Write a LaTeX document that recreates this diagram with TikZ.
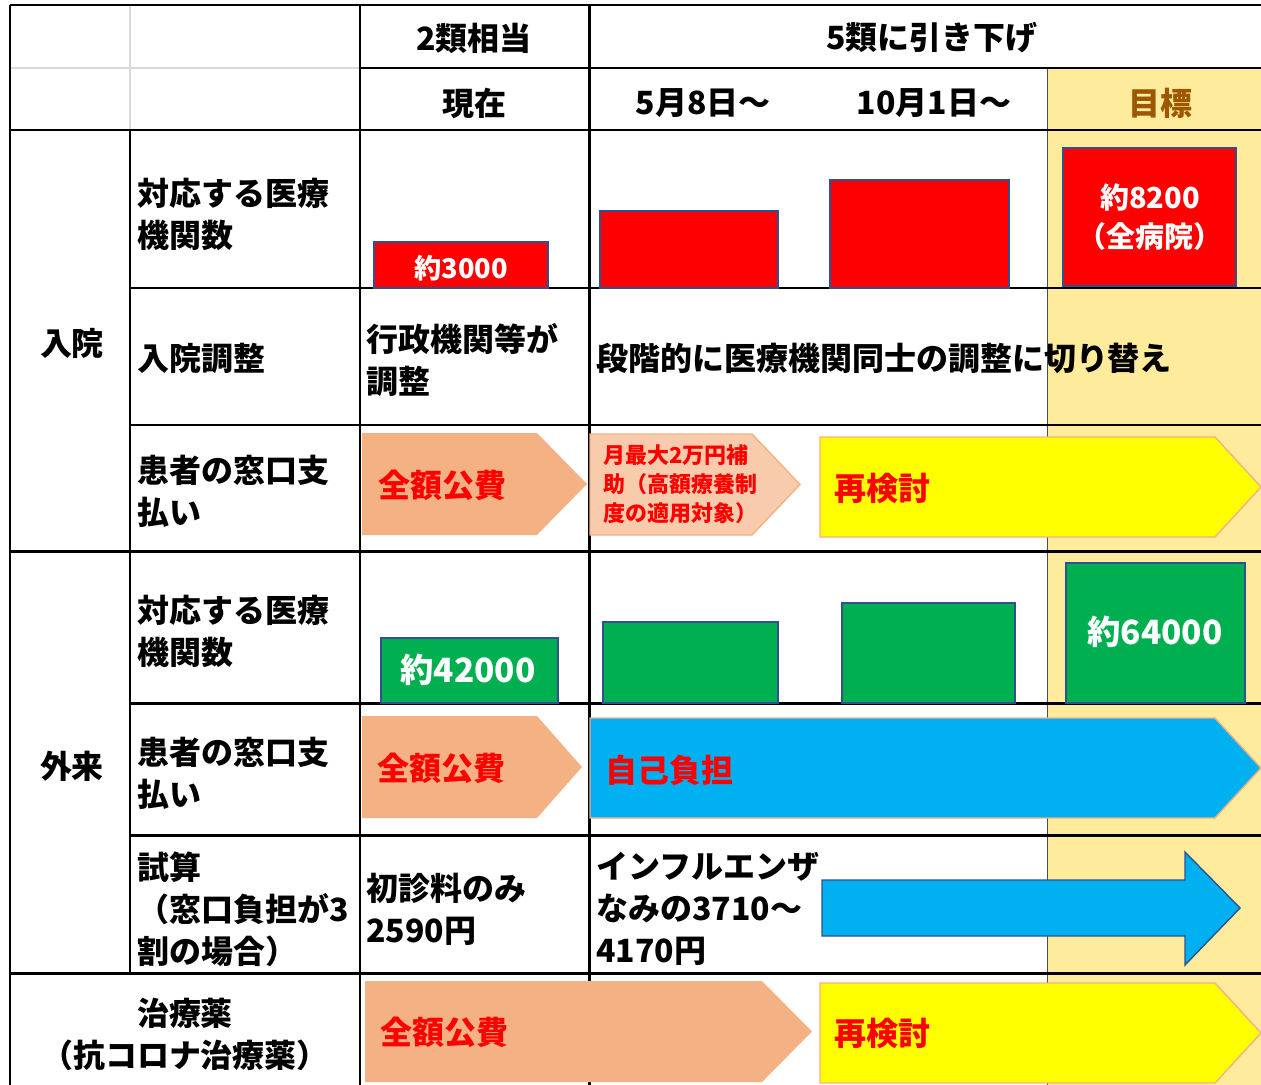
\documentclass[tikz,border=0pt]{standalone}
\usepackage{fontspec}
\setmainfont{Noto Sans CJK JP}
\usepackage{tikz}
\usetikzlibrary{calc}
\definecolor{goalfill}{HTML}{FFEB9C}
\definecolor{goaltext}{HTML}{9C5700}
\definecolor{salmon}{HTML}{F4B183}
\definecolor{palesalmon}{HTML}{F8CBAD}
\definecolor{sky}{HTML}{00B0F0}
\definecolor{lemon}{HTML}{FFFF00}
\definecolor{redfont}{HTML}{FF0000}
\definecolor{barred}{HTML}{FF0000}
\definecolor{bargreen}{HTML}{00B050}
\definecolor{barline}{HTML}{2F528F}
\newcommand{\pentarrow}[6]{%
  \path[#6] (#1,#2) -- (#5,#2) -- (#3,{(#2+#4)/2}) -- (#5,#4) -- (#1,#4) -- cycle;}
\tikzset{
  gridline/.style={line width=1.7pt, black},
  softline/.style={line width=1pt, black!15},
  hd/.style={font=\bfseries\fontsize{18.2}{23.9}\selectfont, inner sep=0pt},
  lbl/.style={hd, align=left, anchor=west},
  redtxt/.style={lbl, text=redfont},
  smalltxt/.style={font=\bfseries\fontsize{12.5}{16.5}\selectfont, inner sep=0pt, align=left, anchor=west, text=redfont},
  bar/.style={draw=barline, line width=0.8pt},
  bartxt/.style={font=\bfseries\fontsize{15.5}{22}\selectfont, inner sep=0pt, align=center, text=white}
}

\begin{document}
\begin{tikzpicture}[x=0.02cm, y=-0.02cm]
\useasboundingbox (0,0) rectangle (1261,1085);
\fill[goalfill] (1047,68) rectangle (1261,1085);

% table rules
\draw[softline] (10,68) -- (360,68);
\draw[softline] (130,5) -- (130,130);
\draw[line width=0.5pt, black!70] (1047,68) -- (1047,1085);
\draw[gridline] (10,5) -- (1261,5);
\draw[gridline] (360,68) -- (1261,68);
\foreach \y in {130,551,973}
  \draw[gridline] (10,\y) -- (1261,\y);
\foreach \y in {288,425,703,835}
  \draw[gridline] (130,\y) -- (1261,\y);
\foreach \x in {10,360,589}
  \draw[gridline] (\x,5) -- (\x,1085);
\draw[gridline] (130,130) -- (130,973);

% header
\node[hd] (nirui) at (474,38) {2類相当};
\node[hd] (gorui) at (932,38) {5類に引き下げ};
\node[hd] (genzai) at (474,103) {現在};
\node[hd] (may) at (703,103) {5月8日～};
\node[hd] (oct) at (934,103) {10月1日～};
\node[hd, text=goaltext] (goal) at (1160,103) {目標};

% row labels
\node[hd] (nyuin) at (72,343) {入院};
\node[hd] (gairai) at (72,766) {外来};
\node[lbl] (taio1) at (137,214) {対応する医療\\機関数};
\node[lbl] (chosei) at (137,358) {入院調整};
\node[lbl] (madoguchi1) at (137,491) {患者の窓口支\\払い};
\node[lbl] (taio2) at (137,631) {対応する医療\\機関数};
\node[lbl] (madoguchi2) at (137,773) {患者の窓口支\\払い};
\node[lbl] (shisan) at (137,909) {試算\\（窓口負担が3\\割の場合）};
\node[hd, align=center] (chiryo) at (185,1034) {治療薬\\（抗コロナ治療薬）};

% bars
\draw[bar, fill=barred] (374,242) rectangle (548,288);
\draw[bar, fill=barred] (600,211) rectangle (778,288);
\draw[bar, fill=barred] (830,180) rectangle (1009,288);
\draw[bar, fill=barred] (1063,148) rectangle (1236,286);
\node[bartxt] (byo3000) at (461,268) {約3000};
\node[bartxt, font=\bfseries\fontsize{16.5}{22}\selectfont] (byo8200) at (1150,217) {約8200\\（全病院）};
\draw[bar, fill=bargreen] (381,638) rectangle (558,703);
\draw[bar, fill=bargreen] (603,622) rectangle (778,703);
\draw[bar, fill=bargreen] (842,603) rectangle (1015,703);
\draw[bar, fill=bargreen] (1066,563) rectangle (1245,703);
\node[bartxt, font=\bfseries\fontsize{19}{22}\selectfont] (gai42000) at (468,670) {約42000};
\node[bartxt, font=\bfseries\fontsize{19}{22}\selectfont] (gai64000) at (1155,632) {約64000};

% cells
\node[lbl] (gyosei) at (366,360) {行政機関等が\\調整};
\node[lbl] (dankai) at (596,358) {段階的に医療機関同士の調整に切り替え};
\node[lbl] (shoshin) at (366,909) {初診料のみ\\2590円};
\node[lbl] (influ) at (596,909) {インフルエンザ\\なみの3710～\\4170円};

% arrows
\pentarrow{362}{433}{587}{535}{537}{fill=salmon}
\pentarrow{590}{434}{800}{535}{752}{fill=palesalmon, draw=salmon, line width=0.8pt}
\pentarrow{820}{437}{1261}{537}{1215}{fill=lemon, draw=salmon, line width=0.8pt}
\node[redtxt] (kohi1) at (378,485) {全額公費};
\node[smalltxt] (hojo) at (603,484) {月最大2万円補\\助（高額療養制\\度の適用対象）};
\node[redtxt] (saikento1) at (834,488) {再検討};

\pentarrow{362}{716}{582}{818}{537}{fill=salmon}
\pentarrow{590}{718}{1261}{818}{1215}{fill=sky, draw=salmon, line width=0.8pt}
\node[redtxt] (kohi2) at (377,768) {全額公費};
\node[redtxt] (jiko) at (605,770) {自己負担};

\path[fill=sky, draw=barline, line width=0.8pt] (822,880) -- (1185,880) -- (1185,852)
  -- (1240,908) -- (1185,965) -- (1185,936) -- (822,936) -- cycle;

\pentarrow{365}{981}{812}{1082}{762}{fill=salmon}
\pentarrow{820}{983}{1261}{1083}{1215}{fill=lemon, draw=salmon, line width=0.8pt}
\node[redtxt] (kohi3) at (380,1032) {全額公費};
\node[redtxt] (saikento2) at (834,1033) {再検討};
\end{tikzpicture}
\end{document}
